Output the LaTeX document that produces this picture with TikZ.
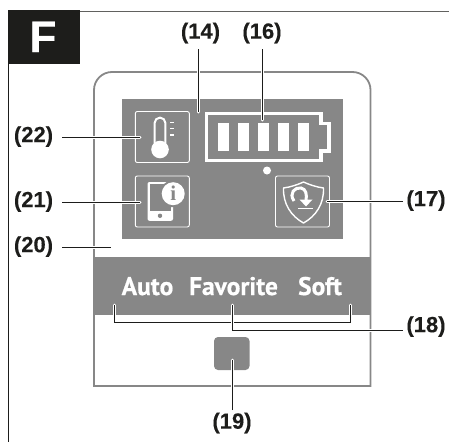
\documentclass[tikz,border=0pt]{standalone}
\usepackage{fontspec}
\setmainfont[BoldFeatures={FakeBold=0.25}]{Liberation Sans}
\newfontfamily\bandfont[BoldFeatures={FakeBold=0.6}]{PT Sans}
\newfontfamily\infofont{Liberation Serif}
\definecolor{panel}{HTML}{878787}
\definecolor{ink}{HTML}{1D1D1B}
\tikzset{
  x=1pt,y=-1pt,
  outline/.style={draw=panel,line width=1.8pt},
  panelfill/.style={fill=panel,draw=none},
  iconbox/.style={draw=white,line width=0.9pt,rounded corners=2pt,fill=panel},
  callout/.style={font=\bfseries\fontsize{22}{22}\selectfont,text=ink,inner sep=0pt},
  bandtext/.style={font=\bandfont\bfseries\fontsize{25.5}{25.5}\selectfont,text=white,inner sep=0pt,anchor=base},
  leader/.style={draw=ink,line width=0.9pt,preaction={draw=white,line width=3pt,line cap=round}},
  whiteline/.style={draw=white,line width=2pt},
}
\begin{document}
\begin{tikzpicture}
\useasboundingbox (0,0) rectangle (449,442);
% frame
\draw[draw=ink!70,line width=1pt] (80,11) -- (449,11);
\draw[draw=ink,line width=1.2pt] (8.7,60) -- (8.7,442);
\fill[ink] (8,10) rectangle (80,63.5);
\node[font=\bfseries\fontsize{44}{44}\selectfont,text=white,inner sep=0pt,anchor=base] (title) at (43,52) {F};
% device
\draw[outline] (94,386) -- (94,90) arc[start angle=180,end angle=270,radius=18] -- (352.5,72) arc[start angle=270,end angle=360,radius=18] -- (370.5,386) -- cycle;
\fill[panelfill] (122,99) rectangle (343,239);
\fill[panelfill] (93,257) rectangle (371.4,315);
\fill[panelfill,rounded corners=4pt] (214,337) rectangle (249.5,370);
% thermometer icon
\node[iconbox,minimum width=54pt,minimum height=51pt,inner sep=0pt] (thermo) at (162.3,137) {};
\fill[white] (160,149.5) circle[radius=8.8];
\draw[whiteline] (154.6,143) -- (154.6,123) arc[start angle=180,end angle=360,radius=5.4] -- (165.4,143);
\draw[white,line width=1.5pt] (170,122.5) -- (174,122.5) (170,128.7) -- (174,128.7) (170,134.8) -- (174,134.8);
% phone icon
\node[iconbox,minimum width=54pt,minimum height=51pt,inner sep=0pt] (phone) at (162.3,201.5) {};
\fill[white,rounded corners=2pt] (147.5,182) rectangle (173,220.8);
\fill[panel] (149.7,184) rectangle (170.8,211);
\fill[panel] (160,215.8) circle[radius=2.2];
\fill[panel] (173.2,193.7) circle[radius=13.5];
\fill[white] (173.2,193.7) circle[radius=11.5];
\node[font=\infofont\bfseries\fontsize{21}{21}\selectfont,text=panel,inner sep=0pt] (infoi) at (173.2,193.7) {i};
% shield icon
\node[iconbox,minimum width=54pt,minimum height=51pt,inner sep=0pt] (shield) at (302.5,201.5) {};
\draw[white,line width=1.4pt,line join=round] (283.5,188) .. controls (291,187) and (298,184.5) .. (303.5,182) .. controls (309,184.5) and (316,187) .. (323.5,188) .. controls (324,204) and (316,216) .. (303.5,223) .. controls (291,216) and (283,204) .. (283.5,188) -- cycle;
\draw[white,line width=3pt] (294,201) .. controls (288.5,193) and (295,187) .. (301,188) .. controls (306,189) and (307,194) .. (306,201);
\fill[white] (299.5,199.5) -- (312.5,199.5) -- (306,206.5) -- cycle;
\draw[white,line width=1.4pt] (298,208.5) -- (313,208.5);
% battery
\draw[white,line width=3.4pt] (206.6,113.7) -- (321,113.7) -- (321,123.6) -- (329,123.6) -- (329,151) -- (321,151) -- (321,160.6) -- (206.6,160.6) -- cycle;
\foreach \bx in {218,238,258,277.5,297.5}{\fill[white] (\bx,122.7) rectangle ++(11,28.3);}
\fill[white] (267,170.5) circle[radius=4];
% band labels
\node[bandtext] (auto) at (147.5,295) {Auto};
\node[bandtext] (fav) at (233.5,295) {Favorite};
\node[bandtext] (soft) at (320,295) {Soft};
% callouts
\node[callout] (n14) at (200.5,33) {(14)};
\node[callout] (n16) at (262,33) {(16)};
\node[callout] (n22) at (33.5,136.5) {(22)};
\node[callout] (n21) at (33.5,201.5) {(21)};
\node[callout] (n20) at (33.5,246.5) {(20)};
\node[callout] (n17) at (426,200.5) {(17)};
\node[callout] (n18) at (426,326.5) {(18)};
\node[callout] (n19) at (232,423) {(19)};
% leader ends
\coordinate (e14) at (198,112);
\coordinate (e16) at (262.5,120);
\coordinate (e22) at (140,137);
\coordinate (e21) at (140,202);
\coordinate (e20) at (111,247);
\coordinate (e17) at (327,201);
\coordinate (e19) at (232,360);
\coordinate (b1) at (114.5,305);
\coordinate (b2) at (114.5,322);
\coordinate (b3) at (350,322);
\coordinate (b4) at (350,305);
\coordinate (m1) at (232,305);
\coordinate (m2) at (232,330.5);
\draw[leader] (198,49) -- (e14);
\draw[leader] (262.5,49) -- (e16);
\draw[leader] (62,137) -- (e22);
\draw[leader] (62,202) -- (e21);
\draw[leader] (62,247) -- (e20);
\draw[leader] (403,201) -- (e17);
\draw[leader] (232,410) -- (e19);
\draw[leader] (b1) -- (b2) -- (b3) -- (b4);
\draw[leader] (m1) -- (m2) -- (403,330.5);
\end{tikzpicture}
\end{document}
